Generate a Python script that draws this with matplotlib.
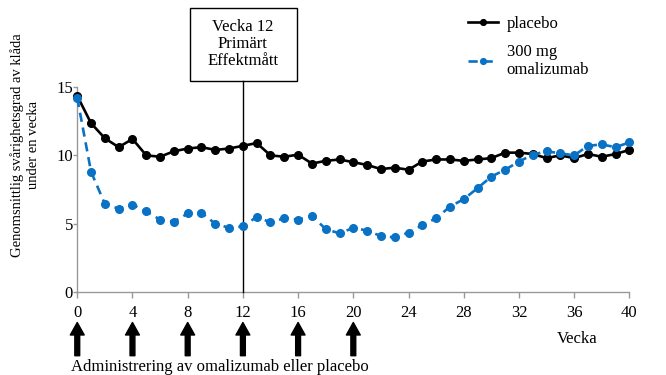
import matplotlib
matplotlib.use('Agg')
import matplotlib.pyplot as plt
import matplotlib.transforms as mtransforms
from matplotlib.patches import Rectangle

plt.rcParams['font.family'] = ['Liberation Serif', 'DejaVu Serif']

weeks = list(range(0, 41))
placebo = [14.35, 12.35, 11.25, 10.6, 11.2, 10.0, 9.9, 10.3, 10.5, 10.6,
           10.4, 10.5, 10.7, 10.9, 10.0, 9.9, 10.05, 9.4, 9.6, 9.7,
           9.5, 9.3, 9.0, 9.1, 8.95, 9.55, 9.7, 9.7, 9.6, 9.7,
           9.8, 10.2, 10.2, 10.1, 9.8, 10.0, 9.8, 10.1, 9.9, 10.1, 10.4]
omalizumab = [14.2, 8.8, 6.45, 6.1, 6.4, 5.9, 5.3, 5.15, 5.75, 5.8,
              5.0, 4.7, 4.8, 5.5, 5.1, 5.4, 5.3, 5.6, 4.6, 4.3,
              4.7, 4.5, 4.1, 4.0, 4.35, 4.9, 5.4, 6.25, 6.8, 7.6,
              8.45, 8.95, 9.55, 10.05, 10.3, 10.15, 10.0, 10.7, 10.8, 10.6, 10.95]
dose_weeks = [0, 4, 8, 12, 16, 20]
xticks = list(range(0, 41, 4))
yticks = [0, 5, 10, 15]

fig = plt.figure(figsize=(6.66, 3.75), dpi=100)
ax = fig.add_axes([0.116, 0.221, 0.829, 0.547])

blue = '#0a72c4'
ax.plot(weeks, placebo, color='black', lw=1.9, marker='o', ms=5.5,
        label='placebo', clip_on=False, zorder=4)
ax.plot(weeks, omalizumab, color=blue, lw=1.9, marker='o', ms=5.5,
        linestyle=(0, (3.5, 2.2)), label='300 mg\nomalizumab', clip_on=False, zorder=4)

ax.set_xlim(0, 40)
ax.set_ylim(0, 15)
ax.set_xticks(xticks)
ax.set_yticks(yticks)
ax.tick_params(axis='both', labelsize=12, colors='#999999', labelcolor='black',
               length=4, width=1)
ax.tick_params(axis='x', pad=5)
ax.tick_params(axis='y', pad=0, length=3)
for s in ['top', 'right']:
    ax.spines[s].set_visible(False)
for s in ['left', 'bottom']:
    ax.spines[s].set_color('#999999')
    ax.spines[s].set_linewidth(1)

# week 12 primary endpoint
trans = mtransforms.blended_transform_factory(ax.transData, ax.transAxes)
ax.plot([12, 12], [0, 1.029], color='black', lw=1, transform=trans,
        clip_on=False, zorder=3)
ax.add_patch(Rectangle((8.2, 1.029), 7.75, 0.358, transform=trans, fill=False,
                       ec='black', lw=1, clip_on=False))
ax.text(12, 1.21, 'Vecka 12\nPrimärt\nEffektmått', transform=trans,
        ha='center', va='center', fontsize=12, linespacing=1.05)

# dosing arrows
for w in dose_weeks:
    ax.annotate('', xy=(w, -0.148), xytext=(w, -0.31), xycoords=trans,
                textcoords=trans,
                arrowprops=dict(facecolor='black', edgecolor='black', width=3.5,
                                headwidth=10, headlength=9, shrink=0))
ax.text(-0.45, -0.365, 'Administrering av omalizumab eller placebo', transform=trans,
        ha='left', va='center', fontsize=12)
ax.text(36.2, -0.23, 'Vecka', transform=trans, ha='center', va='center', fontsize=12)

fig.text(0.0375, 0.613, 'Genomsnittlig svårighetsgrad av klåda\nunder en vecka',
         rotation=90, ha='center', va='center', fontsize=10.5, multialignment='center',
         linespacing=1.35)

fig.legend(loc='upper left', bbox_to_anchor=(0.703, 0.957), frameon=False,
           fontsize=12, handlelength=1.8, handletextpad=0.5, labelspacing=0.7,
           borderpad=0, borderaxespad=0, markerscale=0.75)

fig.savefig('out.png', dpi=100)
